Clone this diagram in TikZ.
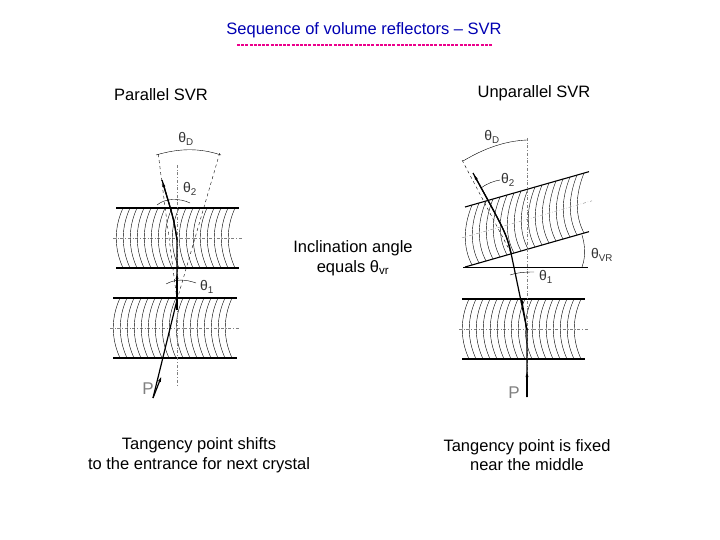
\documentclass[tikz,border=0pt]{standalone}
\usepackage{fontspec}
\setmainfont{Liberation Sans}
\usetikzlibrary{arrows.meta}
\newcommand\mycryst[2]{%
  \draw[line width=1.1pt] (0,0)--(#1,0) (0,#2)--(#1,#2);
  \draw[thin,dash dot,gray] (-3,#2/2)--(#1+3,#2/2);
  \foreach \xx in {7,14,...,#1}{\draw[thin] (\xx,0) .. controls (\xx-9,#2/3) and (\xx-9,2*#2/3) .. (\xx,#2);}
}
\tikzset{lab/.style={font=\fontsize{16.5}{19.5}\selectfont,align=center},
 th/.style={font=\fontsize{14}{15}\selectfont,gray!40!black},
 beam/.style={line width=1.2pt,-{Latex[length=7pt,width=3pt]}},
 ax/.style={thin,dash dot,gray},
 cone/.style={thin,dashed}}
\begin{document}
\begin{tikzpicture}[x=1pt,y=-1pt]
\useasboundingbox (0,0) rectangle (720,540);
\node[lab,text=blue!70!black] (title) at (364,30) {Sequence of volume reflectors -- SVR};
\draw[magenta,line width=2pt,dash pattern=on 3pt off 1.2pt] (237,45)--(492,45);
\node[lab] (ps) at (161,95) {Parallel SVR};
\node[lab] (us) at (534,93) {Unparallel SVR};
\node[lab] (inc) at (353,258) {Inclination angle\\equals θ\textsubscript{vr}};
\node[lab] (t1) at (199,455) {Tangency point shifts\\to the entrance for next crystal};
\node[lab] (t2) at (527,455) {Tangency point is fixed\\near the middle};
% left diagram
\begin{scope}[shift={(116,208)}]\mycryst{123}{60}\end{scope}
\begin{scope}[shift={(113,298)}]\mycryst{124}{60}\end{scope}
\draw[ax] (177,165)--(177,385);
\coordinate (p0) at (153,398);
\coordinate (p1) at (177,300);
\coordinate (p2) at (177,240);
\coordinate (p3) at (162,180);
\draw[line width=1.2pt] (p0)--(p1)--(p2) .. controls (174,220) .. (p3);
\draw[beam] (p2) .. controls (174,220) .. (p3);
\draw[beam] (p0)--(162,375);
\draw[beam] (177,310)--(177,272);
\draw[cone] (177,300)--(158,152) (177,300)--(220,152);
\draw[thin] (156,155) .. controls (180,148) and (200,148) .. (221,155);
\draw[thin] (157,205) .. controls (165,198) and (180,198) .. (190,203);
\draw[thin] (166,284) .. controls (175,279) and (185,279) .. (196,283);
\node[th] (tD) at (186,139) {θ\textsubscript{D}};
\node[th] (t2a) at (190,189) {θ\textsubscript{2}};
\node[th] (t1a) at (207,287) {θ\textsubscript{1}};
\node[font=\fontsize{17}{19}\selectfont,gray] (P1) at (148,389) {P};
% right diagram
\begin{scope}[shift={(462,299)}]\mycryst{123}{60}\end{scope}
\begin{scope}[shift={(465,207)},yslant=0.285]\mycryst{124}{60}\end{scope}
\draw[thin] (463,267)--(588,267);
\draw[ax] (527,138)--(527,395);
\coordinate (q0) at (527,397);
\coordinate (q1) at (527,330);
\coordinate (q2) at (511,253);
\coordinate (q3) at (473,173);
\draw[line width=1.2pt] (q0)--(q1)--(q2) .. controls (506,233) .. (q3);
\draw[beam] (q2) .. controls (506,233) .. (q3);
\draw[beam] (q0)--(527,370);
\draw[beam] (q1)--(521,296);
\draw[cone] (q2)--(462,160);
\draw[thin] (463,161) .. controls (485,148) and (505,141) .. (527,140);
\draw[thin] (481,188) .. controls (488,183) and (494,181) .. (500,180);
\draw[thin] (510,275) .. controls (516,273) and (522,272) .. (534,272);
\draw[thin] (582,235) .. controls (585,245) and (586,256) .. (582,267);
\node[th] (tD2) at (492,137) {θ\textsubscript{D}};
\node[th] (t22) at (508,180) {θ\textsubscript{2}};
\node[th] (t12) at (546,277) {θ\textsubscript{1}};
\node[th] (tvr) at (602,255) {θ\textsubscript{VR}};
\node[font=\fontsize{17}{19}\selectfont,gray] (P2) at (514,393) {P};
\end{tikzpicture}
\end{document}
